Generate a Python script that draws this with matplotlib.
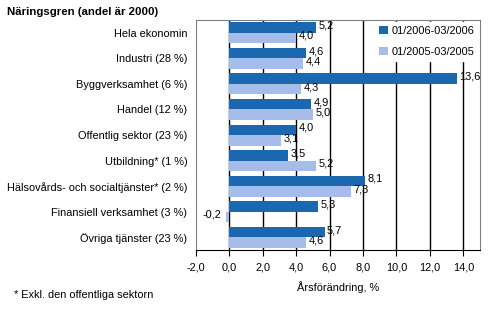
import matplotlib
matplotlib.use("Agg")
import numpy as np
from matplotlib import pyplot as plt

categories = ["Hela ekonomin", "Industri (28 %)", "Byggverksamhet (6 %)", "Handel (12 %)",
              "Offentlig sektor (23 %)", "Utbildning* (1 %)",
              "Hälsovårds- och socialtjänster* (2 %)", "Finansiell verksamhet (3 %)",
              "Övriga tjänster (23 %)"]
q2006 = [5.2, 4.6, 13.6, 4.9, 4.0, 3.5, 8.1, 5.3, 5.7]
q2005 = [4.0, 4.4, 4.3, 5.0, 3.1, 5.2, 7.3, -0.2, 4.6]
series_names = ["01/2006-03/2006", "01/2005-03/2005"]
xticks = [-2, 0, 2, 4, 6, 8, 10, 12, 14]

dark = "#1c68b0"
light = "#a7bde9"

plt.rcParams["font.family"] = ["Liberation Sans", "DejaVu Sans"]
plt.rcParams["font.size"] = 7.9

fig = plt.figure(figsize=(4.97, 3.27), dpi=100)
ax = fig.add_axes([0.394, 0.235, 0.572, 0.704])

y = np.arange(len(categories))
h = 0.41
ax.barh(y - h / 2, q2006, height=h, color=dark, label=series_names[0], zorder=3)
ax.barh(y + h / 2, q2005, height=h, color=light, label=series_names[1], zorder=3)

def fmt(v):
    return ("%.1f" % v).replace(".", ",")

for i in range(len(categories)):
    for v, yy in ((q2006[i], y[i] - h / 2), (q2005[i], y[i] + h / 2)):
        if v >= 0:
            ax.text(v + 0.15, yy - 0.08, fmt(v), ha="left", va="center", zorder=5)
        else:
            ax.text(v - 0.25, yy - 0.08, fmt(v), ha="right", va="center", zorder=5)

ax.set_xlim(-2, 15)
ax.set_ylim(len(categories) - 0.5, -0.5)
ax.set_yticks(y)
ax.set_yticklabels(categories)
ax.tick_params(axis="y", length=0, pad=6)
ax.set_xticks(xticks)
ax.set_xticklabels([fmt(t) for t in xticks])
ax.tick_params(axis="x", length=4, direction="out", color="black", pad=5)

for t in xticks[1:]:
    ax.axvline(t, color="black", lw=1, zorder=1)

for s in ["left", "top", "right"]:
    ax.spines[s].set_color("#808080")
ax.spines["bottom"].set_color("black")

leg = ax.legend(loc="upper right", frameon=True, fancybox=False, handlelength=0.8,
                handleheight=0.8, handletextpad=0.3, labelspacing=1.0,
                borderaxespad=0.15)
leg.get_frame().set_edgecolor("white")
leg.get_frame().set_facecolor("white")
leg.get_frame().set_alpha(1)
leg.set_zorder(6)

ax.set_xlabel("Årsförändring, %", labelpad=6)

fig.text(0.014, 0.963, "Näringsgren (andel är 2000)", fontweight="bold", fontsize=8.2, va="center")
fig.text(0.028, 0.098, "* Exkl. den offentliga sektorn", va="center")

fig.savefig("out.png", dpi=100)
